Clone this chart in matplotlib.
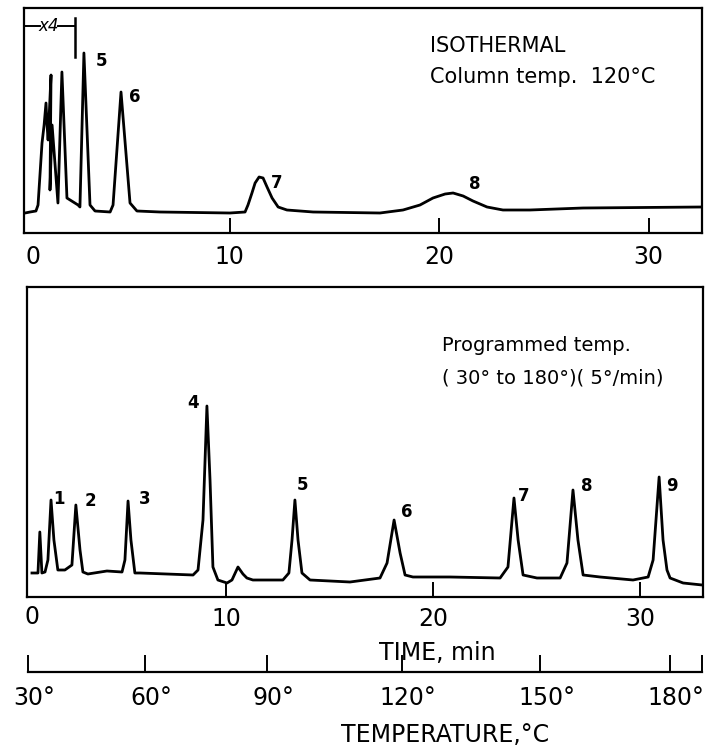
import matplotlib
matplotlib.use("Agg")
import matplotlib.pyplot as plt
from matplotlib.transforms import ScaledTranslation

# ---- isothermal run (time in min, detector signal in arbitrary units) ----
iso_time = [0.24, 0.48, 0.76, 0.86, 1.05, 1.15, 1.24, 1.29, 1.34, 1.48, 1.43, 1.53,
            1.81, 2.00, 2.24, 2.39, 2.77, 2.86, 3.05, 3.34, 3.58, 4.30, 4.44, 4.82,
            5.25, 5.58, 6.68, 10.02, 10.74, 10.88, 11.07, 11.22, 11.41, 11.60, 11.79,
            12.03, 12.32, 12.74, 13.99, 17.18, 18.28, 19.09, 19.71, 20.29, 20.67,
            21.15, 21.62, 22.29, 23.05, 24.34, 26.87, 32.55]
iso_signal = [20, 21, 22, 28, 90, 108, 130, 108, 93, 158, 43, 108,
              30, 161, 35, 33, 28, 26, 180, 28, 22, 21, 28, 141,
              30, 22, 21, 20, 21, 28, 40, 50, 56, 55, 46,
              35, 26, 23, 21, 20, 23, 28, 35, 39, 40,
              37, 32, 26, 23, 23, 25, 26]
iso_peaks = [("5", 3.91, 172), ("6", 5.49, 136), ("7", 12.27, 50), ("8", 21.72, 49)]

# ---- programmed temperature run ----
prog_time = [0.63, 0.92, 1.01, 1.11, 1.26, 1.40, 1.55, 1.69, 1.88, 2.22, 2.56, 2.75,
             2.95, 3.09, 3.33, 4.25, 4.98, 5.12, 5.27, 5.41, 5.60, 5.85, 8.41, 8.65,
             8.89, 9.08, 9.23, 9.37, 9.61, 10.05, 10.29, 10.58, 10.82, 11.01, 11.30,
             12.75, 13.04, 13.19, 13.33, 13.48, 13.67, 14.06, 15.99, 17.44, 17.78,
             18.12, 18.41, 18.65, 19.03, 20.82, 23.24, 23.62, 23.91, 24.11, 24.35,
             25.02, 26.14, 26.47, 26.76, 27.00, 27.25, 28.07, 29.66, 30.39, 30.63,
             30.92, 31.11, 31.30, 31.45, 32.08, 33.00]
prog_signal = [24, 24, 65, 24, 25, 37, 97, 57, 27, 27, 32, 92,
               47, 25, 23, 26, 25, 37, 96, 57, 24, 24, 22, 27,
               77, 191, 117, 30, 17, 14, 17, 30, 23, 19, 17,
               17, 24, 57, 97, 57, 24, 17, 15, 19, 34,
               77, 44, 22, 20, 20, 19, 30, 99, 57, 22,
               19, 19, 34, 107, 57, 22, 20, 17, 20, 37,
               120, 57, 27, 19, 14, 12]
prog_peaks = [("1", 1.93, 98), ("2", 3.43, 96), ("3", 6.09, 98), ("4", 8.41, 194),
              ("5", 13.72, 112), ("6", 18.74, 85), ("7", 24.40, 101),
              ("8", 27.44, 111), ("9", 31.55, 111)]

# temperature scale under the programmed run (deg C and where it sits in min)
temp_labels = [30, 60, 90, 120, 150, 180]
temp_at_min = [0.43, 6.1, 12.0, 18.5, 25.2, 31.45]

time_ticks = [10, 20, 30]

plt.rcParams["font.family"] = "DejaVu Sans"
W, H = 711, 753


def fx(px):
    return px / W


def fy(py):
    return 1 - py / H


def style_frame(ax):
    for s in ax.spines.values():
        s.set_linewidth(1.6)
    ax.set_yticks([])
    ax.set_xticks(time_ticks)
    ax.set_xticklabels([str(t) for t in time_ticks])
    ax.tick_params(axis="x", direction="in", length=11, width=1.4,
                   labelsize=17, pad=9)


fig = plt.figure(figsize=(W / 100, H / 100), dpi=100)

# ---------------- top panel ----------------
ax1 = fig.add_axes([fx(24), fy(233), fx(678), 225 / H])
ax1.plot(iso_time, iso_signal, color="black", lw=2.0, solid_joinstyle="round")
ax1.set_xlim(0.19, 32.55)
ax1.set_ylim(0, 225)
style_frame(ax1)
ax1.text(0.62, -0.105, "0", transform=ax1.get_xaxis_transform(),
         ha="center", va="center", fontsize=17)
for lab, t, h in iso_peaks:
    ax1.text(t, h, lab, ha="center", va="center", fontsize=12, fontweight="bold")
ax1.text(0.599, 0.831, "ISOTHERMAL", transform=ax1.transAxes,
         ha="left", va="center", fontsize=15)
ax1.text(0.599, 0.693, "Column temp.  120\u00b0C", transform=ax1.transAxes,
         ha="left", va="center", fontsize=15)
# x4 attenuation bracket
ax1.plot([0.19, 0.95], [207, 207], color="black", lw=1.4)
ax1.plot([1.81, 2.6], [207, 207], color="black", lw=1.4)
ax1.plot([2.63, 2.63], [176, 215], color="black", lw=1.8)
ax1.text(1.38, 207, "x4", ha="center", va="center", fontsize=12, style="italic")

# ---------------- lower panel ----------------
ax2 = fig.add_axes([fx(27), fy(597), fx(676), 310 / H])
ax2.plot(prog_time, prog_signal, color="black", lw=2.0, solid_joinstyle="round")
ax2.set_xlim(0.39, 33.04)
ax2.set_ylim(0, 310)
style_frame(ax2)
ax2.tick_params(axis="x", pad=7)
ax2.text(0.63, -0.065, "0", transform=ax2.get_xaxis_transform(),
         ha="center", va="center", fontsize=17)
for lab, t, h in prog_peaks:
    ax2.text(t, h, lab, ha="center", va="center", fontsize=12, fontweight="bold")
ax2.text(0.614, 0.81, "Programmed temp.", transform=ax2.transAxes,
         ha="left", va="center", fontsize=14)
ax2.text(0.614, 0.706, "( 30\u00b0 to 180\u00b0)( 5\u00b0/min)", transform=ax2.transAxes,
         ha="left", va="center", fontsize=14)

fig.text(fx(437), fy(653), "TIME, min", ha="center", va="center", fontsize=17)

# ---------------- temperature scale ----------------
ax3 = fig.add_axes([fx(28), fy(672), fx(674), 0.02])
ax3.set_xlim(0.42, 33.01)
for side in ("top", "left", "right"):
    ax3.spines[side].set_visible(False)
ax3.spines["bottom"].set_linewidth(1.6)
ax3.set_yticks([])
ax3.patch.set_alpha(0)
ax3.set_xticks(temp_at_min)
ax3.set_xticklabels([f"{v}\u00b0" for v in temp_labels])
ax3.set_xticks([33.0], minor=True)
ax3.tick_params(axis="x", which="both", direction="in", length=12, width=1.4,
                labelsize=17, pad=10)
# labels in the original sit a little right of their ticks (degree sign)
shift = ScaledTranslation(0.06, 0, fig.dpi_scale_trans)
for lbl in ax3.get_xticklabels():
    lbl.set_transform(lbl.get_transform() + shift)

fig.text(fx(445), fy(735), "TEMPERATURE,\u00b0C", ha="center", va="center", fontsize=17)

fig.savefig("out.png", dpi=100)
